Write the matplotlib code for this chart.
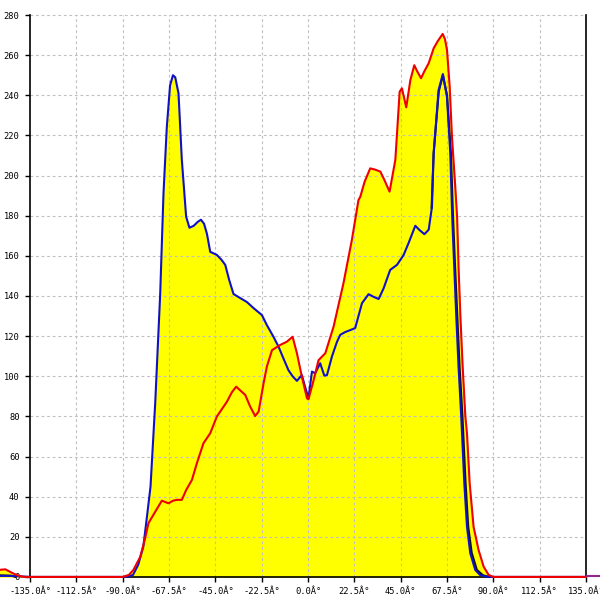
import numpy as np
import matplotlib
matplotlib.use('Agg')
import matplotlib.pyplot as plt

# angle (deg) / value pairs
blue_x = [-150, -145, -140, -135, -90, -87, -85, -82.5, -80, -78, -76.5, -74.2, -71.8, -70.2,
          -68.6, -67, -65.6, -64.5, -62.9, -61.3, -59.2, -57.6, -55.5, -53.5, -52, -50.5,
          -49.1, -47.5, -44.3, -42, -40.2, -38.3, -36.2, -33, -29.7, -26.5, -22.4, -20,
          -16.8, -14.3, -12, -9.5, -7.5, -5.4, -3, -1.5, 0.2, 1.9, 3.5, 5.9, 7.9, 9.2,
          11.6, 14, 15.6, 18, 20.5, 22.9, 24.5, 26.2, 29.4, 32, 34.3, 36.7, 39.9, 43.2,
          46.4, 48.8, 52.1, 54, 56.5, 58.6, 60.2, 61, 63.4, 65.5, 67.5, 69.1, 70, 71, 72,
          73.1, 74.4, 75.9, 77.2, 78.8, 81.2, 83.5, 85.3, 87.7, 135]
blue_y = [0.5, 0.5, 0.3, 0, 0, 0.3, 1, 6, 15, 32, 45, 87, 141, 191,
          224, 245, 250, 249, 241, 208, 179.5, 174, 175, 177, 178, 176,
          171, 162, 160.5, 158, 155.5, 148, 141, 139, 137, 134, 130.5, 125.5,
          119.7, 114.7, 109, 103, 100, 97.7, 100.6, 95, 89, 102.3, 101.5, 106.5, 100.3, 100.6,
          109.8, 117, 120.6, 122, 123, 124, 130, 136.4, 140.9, 139.5, 138.5, 143.8, 153, 155.5,
          160.4, 166.3, 175, 173, 170.8, 173, 184.5, 211, 242.6, 250.6, 239, 211, 180, 154.6, 129.7,
          104.8, 80, 46.7, 25, 11.8, 3.5, 1, 0.5, 0, 0]

red_x = [-150, -147, -143.9, -140.7, -138, -90, -87, -84.8, -81.5, -79.1, -77.5, -74.2, -71,
         -67.8, -65.5, -63.7, -61.3, -59.2, -56.4, -54, -50.8, -47.5, -44.3, -39.4, -37,
         -34.9, -30.5, -28.1, -25.7, -24, -21.6, -20, -17.5, -13.5, -10.3, -7.5, -5.4, -3,
         -0.5, 0.2, 2.7, 5.1, 8.4, 12.4, 17.2, 21.3, 24.5, 25.4, 27.5, 30.2, 32.5, 35.1,
         37, 39.6, 42.4, 44.5, 45.6, 47.7, 49.7, 51.6, 53, 54.9, 56.5, 58.6, 61, 63, 65.4,
         66.5, 67.5, 68.8, 69.9, 71.5, 72.4, 73.1, 74, 75.1, 76.4, 77.2, 78.5, 80.4, 82.8,
         85.3, 87.7, 90, 135]
red_y = [3.5, 3.8, 2.1, 0.6, 0, 0, 1, 3.5, 10, 19.3, 26.8, 32.5, 38,
         36.7, 38, 38.4, 38.4, 43.3, 48.3, 56.6, 66.6, 71.6, 79.9, 87.3, 92,
         94.8, 90.7, 84.9, 80.2, 82.4, 96.5, 104.8, 113, 115.6, 117.2, 119.7, 111.5, 99.8,
         89, 88.5, 98, 108, 111.5, 124.7, 146.3, 168, 187.8, 189.5, 197, 203.6, 203, 202,
         198, 192, 207.8, 241.8, 243.5, 234, 247.6, 255, 252, 248.5, 252, 256, 263.4, 267, 270.6,
         268, 262.6, 244.3, 219.4, 194.5, 179.5, 154.6, 129.7, 104.8, 80, 71.6, 46.7, 25, 13.5,
         5.1, 1, 0, 0]

black_x = [-150, -144, -142, np.nan, 60, 61, 63.5, 65.5, 67.5, 69.4, 70.4, 71.4, 72.5, 73.6,
           75, 76.5, 77.8, 79.5, 82, 85, 88]
black_y = [0.8, 0.6, 0, np.nan, 184, 211, 242, 250, 240, 211, 180, 155, 130, 105,
           80, 47, 25, 12, 3.5, 0.8, 0]

tail_x = [135.5, 142]
tail_y = [0.6, 0.6]

x_ticks = [-135, -112.5, -90, -67.5, -45, -22.5, 0, 22.5, 45, 67.5, 90, 112.5, 135]
x_labels = ['%.1fÂ°' % t for t in x_ticks]
y_ticks = list(range(0, 281, 20))

fig = plt.figure(figsize=(6, 6), dpi=100)
ax = fig.add_axes([0, 0, 1, 1])
ax.set_xlim(-149.6, 141.8)
ax.set_ylim(-11.5, 287.5)

# yellow area under both curves
ax.fill_between(blue_x, 0, blue_y, color='#ffff00', lw=0, zorder=1)
ax.fill_between(red_x, 0, red_y, color='#ffff00', lw=0, zorder=1)

# dashed grid inside the frame
ax.vlines(x_ticks[1:-1], 0, 280, colors='#c0c0c0', linestyles=(0, (2.5, 2.5)), lw=0.8, zorder=2)
ax.hlines(y_ticks[1:], -135, 135, colors='#c0c0c0', linestyles=(0, (2.5, 2.5)), lw=0.8, zorder=2)

ax.plot(black_x, black_y, color='#111111', lw=1.5, zorder=3)
ax.plot(blue_x, blue_y, color='#1010c8', lw=1.5, zorder=4)
ax.plot(red_x, red_y, color='#ee0000', lw=1.5, zorder=5)
ax.plot(tail_x, tail_y, color='#8e2a8e', lw=1.5, zorder=5)

ax.spines['top'].set_visible(False)
ax.spines['left'].set_position(('data', -135))
ax.spines['left'].set_bounds(0, 280)
ax.spines['right'].set_position(('data', 135))
ax.spines['right'].set_bounds(0, 280)
ax.spines['bottom'].set_position(('data', 0))
ax.spines['bottom'].set_bounds(-135, 135)
for s in ['left', 'right', 'bottom']:
    ax.spines[s].set_linewidth(1.2)
    ax.spines[s].set_zorder(2.5)

ax.set_xticks(x_ticks)
ax.set_xticklabels(x_labels)
ax.set_yticks(y_ticks)
ax.tick_params(direction='out', length=3.6, width=1, pad=4, labelsize=6.3, right=False, top=False)
for lab in ax.get_xticklabels() + ax.get_yticklabels():
    lab.set_family('DejaVu Sans Mono')

fig.savefig('out.png', dpi=100)
